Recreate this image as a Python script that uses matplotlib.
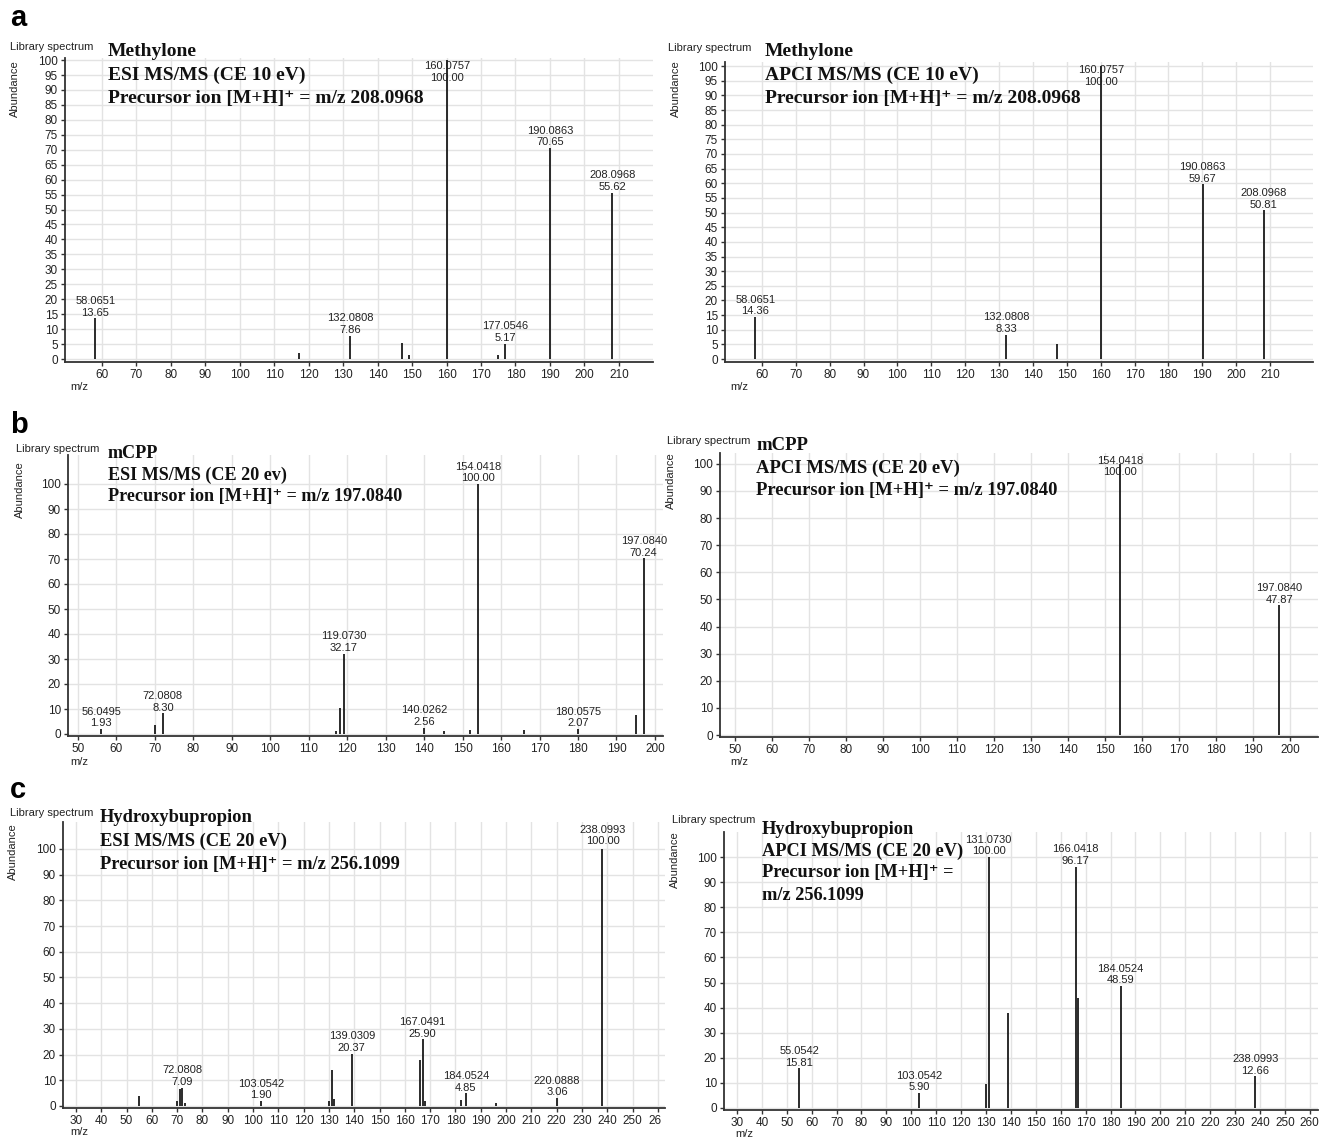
import matplotlib
matplotlib.use("Agg")
import matplotlib.pyplot as plt
from matplotlib.transforms import blended_transform_factory, Bbox

W, H = 1320, 1140

# ---------------- data ----------------
# Panel a: Methylone
a_esi_mz = [58.0651, 117.07, 132.0808, 147.04, 149.06, 160.0757, 175.04, 177.0546, 190.0863, 208.0968]
a_esi_ab = [13.65, 2.0, 7.86, 5.5, 1.2, 100.00, 1.2, 5.17, 70.65, 55.62]
a_esi_lab = [1, 0, 1, 0, 0, 1, 0, 1, 1, 1]

a_apci_mz = [58.0651, 132.0808, 147.04, 160.0757, 190.0863, 208.0968]
a_apci_ab = [14.36, 8.33, 5.2, 100.00, 59.67, 50.81]
a_apci_lab = [1, 1, 0, 1, 1, 1]

# Panel b: mCPP
b_esi_mz = [56.0495, 70.07, 72.0808, 117.06, 118.07, 119.0730, 140.0262, 145.03, 152.03,
            154.0418, 166.04, 180.0575, 195.07, 197.0840]
b_esi_ab = [1.93, 3.7, 8.30, 1.3, 10.5, 32.17, 2.56, 1.3, 1.8, 100.00, 1.8, 2.07, 7.7, 70.24]
b_esi_lab = [1, 0, 1, 0, 0, 1, 1, 0, 0, 1, 0, 1, 0, 1]

b_apci_mz = [154.0418, 197.0840]
b_apci_ab = [100.00, 47.87]
b_apci_lab = [1, 1]

# Panel c: Hydroxybupropion
c_esi_mz = [55.05, 70.07, 71.07, 72.0808, 73.08, 103.0542, 130.07, 131.07, 132.07, 139.0309,
            166.04, 167.0491, 168.05, 182.04, 184.0524, 196.08, 220.0888, 238.0993]
c_esi_ab = [4.0, 2.0, 6.5, 7.09, 1.2, 1.90, 1.8, 14.0, 2.8, 20.37,
            18.0, 25.90, 1.8, 2.5, 4.85, 1.2, 3.06, 100.00]
c_esi_lab = [0, 0, 0, 1, 0, 1, 0, 0, 0, 1, 0, 1, 0, 0, 1, 0, 1, 1]

c_apci_mz = [55.0542, 103.0542, 130.07, 131.0730, 139.03, 166.0418, 167.05, 184.0524, 238.0993]
c_apci_ab = [15.81, 5.90, 9.5, 100.00, 38.0, 96.17, 44.0, 48.59, 12.66]
c_apci_lab = [1, 1, 0, 1, 0, 1, 0, 1, 1]

titles = {
    "a_esi": ["Methylone", "ESI MS/MS (CE 10 eV)", "Precursor ion [M+H]\u207a = m/z 208.0968"],
    "a_apci": ["Methylone", "APCI MS/MS (CE 10 eV)", "Precursor ion [M+H]\u207a = m/z 208.0968"],
    "b_esi": ["mCPP", "ESI MS/MS (CE 20 ev)", "Precursor ion [M+H]\u207a = m/z 197.0840"],
    "b_apci": ["mCPP", "APCI MS/MS (CE 20 eV)", "Precursor ion [M+H]\u207a = m/z 197.0840"],
    "c_esi": ["Hydroxybupropion", "ESI MS/MS (CE 20 eV)", "Precursor ion [M+H]\u207a = m/z 256.1099"],
    "c_apci": ["Hydroxybupropion", "APCI MS/MS (CE 20 eV)", "Precursor ion [M+H]\u207a =", "m/z 256.1099"],
}

a_xticks = list(range(60, 211, 10))
a_yticks = list(range(0, 101, 5))
b_xticks = list(range(50, 201, 10))
b_yticks = list(range(0, 101, 10))
c_xticks = list(range(30, 261, 10))
c_yticks = list(range(0, 101, 10))

# ---------------- layout (pixels) ----------------
# key: (x0, x1, ytop, ybottom, xlim, ylim, title_x, title_y0, title_dy, title_fs, libspec_xy, abund_xy, mz_xy)
layout = {
    "a_esi":  (65, 653, 58, 362, (49.3, 219.9), (-1.0, 100.7), 108, 52, 23, 14.0, (10, 47), (15, 89), (70, 387)),
    "a_apci": (725, 1313, 62, 362, (49.1, 222.7), (-1.0, 101.4), 765, 52, 23, 14.0, (668, 48), (676, 89), (730, 387)),
    "b_esi":  (68, 663, 455, 736, (47.4, 202.1), (-0.8, 111.6), 108, 453, 22, 13.1, (16, 449), (20, 490), (70, 762)),
    "b_apci": (720, 1318, 453, 737, (46.0, 207.6), (-0.7, 104.0), 756, 446, 22, 13.4, (667, 441), (671, 481), (730, 762)),
    "c_esi":  (63, 665, 822, 1108, (24.9, 262.8), (-0.8, 110.5), 100, 818, 23.5, 13.3, (10, 813), (13, 852), (70, 1132)),
    "c_apci": (724, 1318, 832, 1110, (24.8, 263.3), (-0.8, 110.0), 762, 829, 22, 13.2, (672, 820), (675, 860), (735, 1134)),
}

panels = {
    "a_esi": (a_esi_mz, a_esi_ab, a_esi_lab, a_xticks, a_yticks),
    "a_apci": (a_apci_mz, a_apci_ab, a_apci_lab, a_xticks, a_yticks),
    "b_esi": (b_esi_mz, b_esi_ab, b_esi_lab, b_xticks, b_yticks),
    "b_apci": (b_apci_mz, b_apci_ab, b_apci_lab, b_xticks, b_yticks),
    "c_esi": (c_esi_mz, c_esi_ab, c_esi_lab, c_xticks, c_yticks),
    "c_apci": (c_apci_mz, c_apci_ab, c_apci_lab, c_xticks, c_yticks),
}

panel_letters = [("a", 10, 18), ("b", 10, 425), ("c", 10, 790)]

SANS = ["Liberation Sans", "DejaVu Sans"]
SERIF = ["Liberation Serif", "DejaVu Serif"]

fig = plt.figure(figsize=(W / 100, H / 100), dpi=100)
fig.patch.set_facecolor("white")


def fx(px):
    return px / W


def fy(py):
    return 1 - py / H


left_clip = Bbox.from_extents(0, 0, 661, H)

for key, (x0, x1, yt, yb, xlim, ylim, tx, ty0, tdy, tfs, lib, abn, mzl) in layout.items():
    mz, ab, lab, xt, yt_ticks = panels[key]
    ax = fig.add_axes([fx(x0), fy(yb), (x1 - x0) / W, (yb - yt) / H])
    ax.set_xlim(*xlim)
    ax.set_ylim(*ylim)
    ax.set_xticks(xt)
    ax.set_yticks(yt_ticks)
    ax.grid(True, color="#e3e3e3", linewidth=1.0)
    ax.set_axisbelow(True)
    for s in ("top", "right"):
        ax.spines[s].set_visible(False)
    for s in ("left", "bottom"):
        ax.spines[s].set_color("#333333")
        ax.spines[s].set_linewidth(1.3)
    ax.tick_params(axis="both", length=3, width=1, color="#333333", labelsize=8.5,
                   labelcolor="#222222", pad=2)
    for t in ax.get_xticklabels() + ax.get_yticklabels():
        t.set_family(SANS)
    if key == "c_esi":
        for t in ax.get_xticklabels():
            t.set_clip_box(left_clip)
            t.set_clip_on(True)

    ax.vlines(mz, 0, ab, colors="#1a1a1a", linewidth=1.3, zorder=3)

    # peak labels
    top_px = ax.transAxes.transform((0, 1))[1]
    for m, a, l in zip(mz, ab, lab):
        if not l:
            continue
        txt = f"{m:.4f}\n{a:.2f}"
        py = ax.transData.transform((m, a))[1]
        label_h = 26
        if py + 1 + label_h > top_px:
            tr = blended_transform_factory(ax.transData, ax.transAxes)
            ax.text(m, 0.99, txt, transform=tr, ha="center", va="top", fontsize=8,
                    family=SANS, color="#222222", linespacing=1.2, zorder=4)
        else:
            ax.annotate(txt, (m, a), xytext=(0, 0.5), textcoords="offset points",
                        ha="center", va="bottom", fontsize=8, family=SANS,
                        color="#222222", linespacing=1.2, zorder=4)

    # title block
    for i, line in enumerate(titles[key]):
        fig.text(fx(tx), fy(ty0 + i * tdy), line, ha="left", va="center",
                 fontsize=tfs, fontweight="bold", family=SERIF, color="#111111")

    fig.text(fx(lib[0]), fy(lib[1]), "Library spectrum", ha="left", va="center",
             fontsize=8, family=SANS, color="#222222")
    fig.text(fx(abn[0]), fy(abn[1]), "Abundance", ha="center", va="center",
             rotation=90, fontsize=8, family=SANS, color="#222222")
    fig.text(fx(mzl[0]), fy(mzl[1]), "m/z", ha="left", va="center",
             fontsize=8, family=SANS, color="#222222")

for letter, lx, ly in panel_letters:
    fig.text(fx(lx), fy(ly), letter, ha="left", va="center", fontsize=21,
             fontweight="bold", family=SANS, color="black")

fig.savefig("out.png", dpi=100, facecolor="white")
